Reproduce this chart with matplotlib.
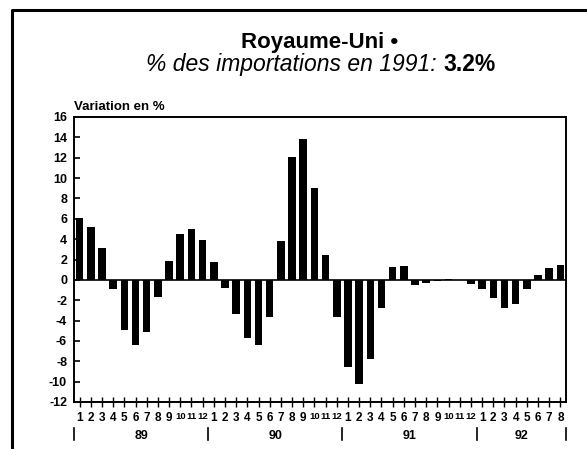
import matplotlib
matplotlib.use("Agg")
import matplotlib.pyplot as plt
from matplotlib.lines import Line2D

plt.rcParams['font.family'] = ['Liberation Sans', 'DejaVu Sans']
plt.rcParams['axes.unicode_minus'] = False

# ---- data ----
years = ['89', '90', '91', '92']
months_per_year = [12, 12, 12, 8]
month_labels = [str(m) for n in months_per_year for m in range(1, n + 1)]
values_89 = [6.1, 5.2, 3.1, -0.9, -4.9, -6.4, -5.1, -1.7, 1.9, 4.5, 5.0, 3.9]
values_90 = [1.8, -0.8, -3.4, -5.7, -6.4, -3.6, 3.8, 12.1, 13.8, 9.0, 2.4, -3.6]
values_91 = [-8.6, -10.2, -7.8, -2.8, 1.3, 1.4, -0.5, -0.3, -0.1, 0.05, -0.05, -0.4]
values_92 = [-0.9, -1.8, -2.8, -2.4, -0.9, 0.45, 1.2, 1.5]
values = values_89 + values_90 + values_91 + values_92
y_ticks = list(range(-12, 17, 2))

W, H = 587, 449
fig = plt.figure(figsize=(W / 100, H / 100), dpi=100)
fig.patch.set_facecolor('white')

left, right, top, bottom = 74, 566, 117, 402
ax = fig.add_axes([left / W, 1 - bottom / H, (right - left) / W, (bottom - top) / H])

x = list(range(len(values)))
ax.bar(x, values, width=0.68, color='black', edgecolor='none')
ax.axhline(0, color='black', lw=1.2)

ax.set_xlim(-0.5, len(values) - 0.5)
ax.set_ylim(-12, 16)
ax.set_yticks(y_ticks)
ax.set_yticklabels([str(v) for v in y_ticks], fontsize=9, fontweight='bold')
ax.tick_params(axis='y', direction='in', length=4, width=1.2, pad=5)
ax.set_xticks(x)
ax.set_xticklabels(month_labels, fontweight='bold')
for lbl, txt in zip(ax.get_xticklabels(), month_labels):
    lbl.set_fontsize(8.5 if len(txt) == 1 else 6.8)
ax.tick_params(axis='x', direction='inout', length=7, width=1.0, pad=4)
for s in ax.spines.values():
    s.set_linewidth(1.4)

# year separators and labels
trans = ax.get_xaxis_transform()
start = 0
bounds = [0]
for n in months_per_year:
    start += n
    bounds.append(start)
for b in bounds:
    ax.add_line(Line2D([b - 0.5, b - 0.5], [-(428 - bottom) / (bottom - top), -(440 - bottom) / (bottom - top)],
                       transform=trans, color='black', lw=1.2, clip_on=False))
for i, yr in enumerate(years):
    cx = (bounds[i] + bounds[i + 1]) / 2 - 0.5
    ax.text(cx, -(436 - bottom) / (bottom - top), yr, transform=trans, ha='center', va='center',
            fontsize=9, fontweight='bold')

# axis label
fig.text(left / W, 1 - 107 / H, 'Variation en %', ha='left', va='center', fontsize=9.5, fontweight='bold')

# titles
fig.text(320 / W, 1 - 48 / H, 'Royaume-Uni \u2022', ha='center', va='baseline', fontsize=16, fontweight='bold')
t1 = fig.text(0, 0, '% des importations en 1991: ', fontsize=16.5, style='italic')
t2 = fig.text(0, 0, '3.2%', fontsize=16.5, fontweight='bold')
fig.canvas.draw()
r = fig.canvas.get_renderer()
w1 = t1.get_window_extent(r).width
w2 = t2.get_window_extent(r).width
x0 = 321 - (w1 + w2) / 2
t1.set_position((x0 / W, 1 - 71 / H))
t2.set_position(((x0 + w1) / W, 1 - 71 / H))

# outer frame
fig.add_artist(Line2D([12 / W, 12 / W, 1.0], [0.0, 1 - 10 / H, 1 - 10 / H], transform=fig.transFigure,
                      color='black', lw=2.2))

fig.savefig('out.png', dpi=100, facecolor='white')
